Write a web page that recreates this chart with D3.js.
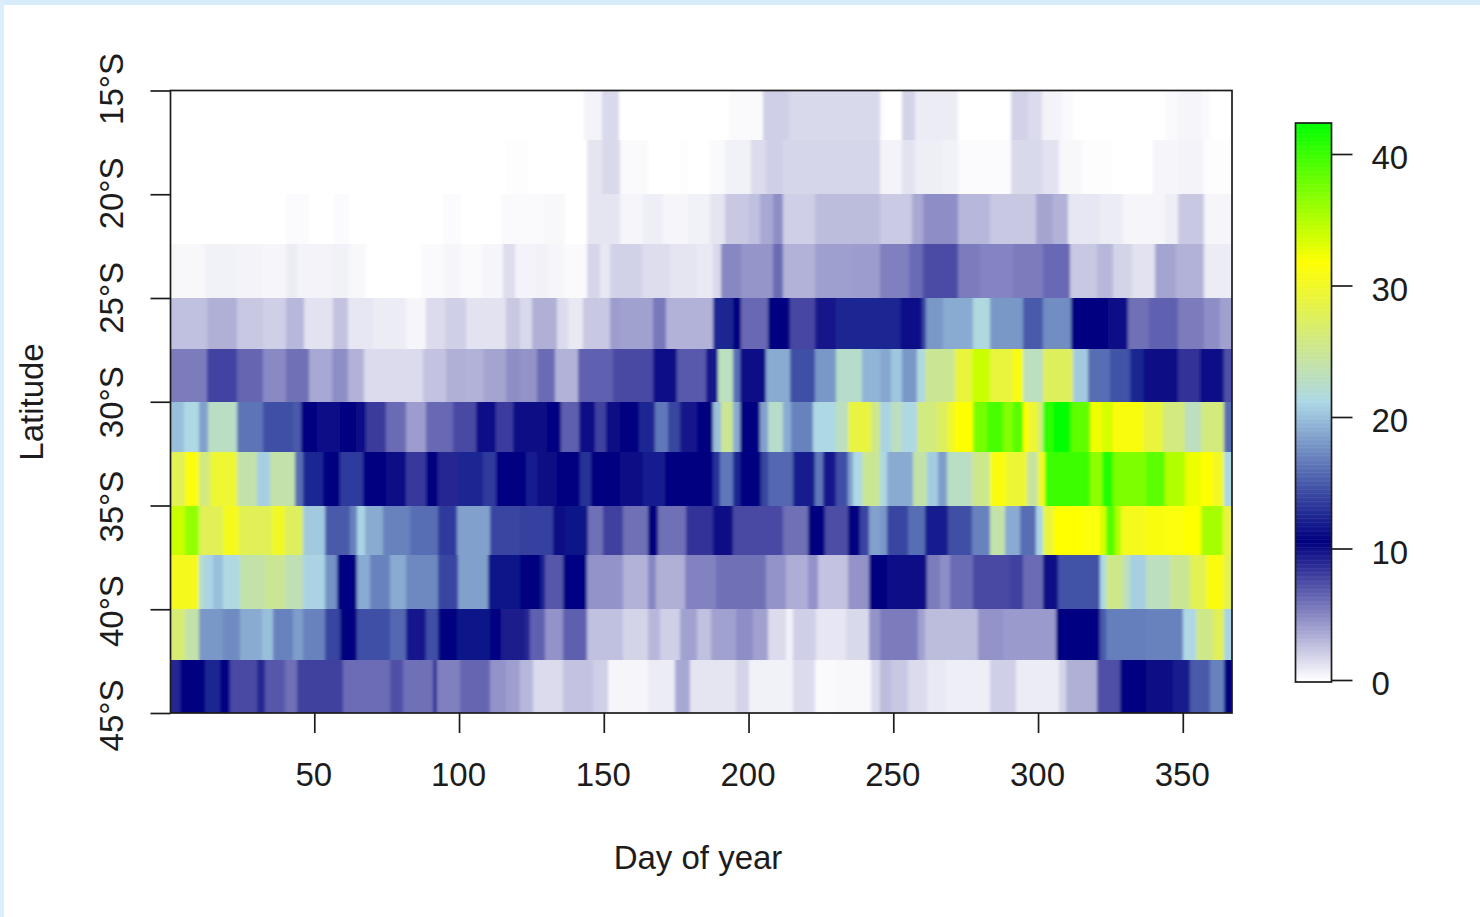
<!DOCTYPE html>
<html><head><meta charset="utf-8">
<script src="https://cdnjs.cloudflare.com/ajax/libs/d3/7.8.5/d3.min.js"></script>
<style>html,body{margin:0;padding:0;background:#fff;overflow:hidden}
svg{display:block}text{font-family:"Liberation Sans",Arial,sans-serif;font-size:33px;fill:#1c1c1c}</style>
</head><body><svg id="c" width="1480" height="917"></svg>
<script>
const dayTicks=[50,100,150,200,250,300,350];
const latTicks=[15,20,25,30,35,40,45];
const barTicks=[0,10,20,30,40];
const latEdges=[15,17.4,20,22.4,25,27.45,30,32.4,35,37.4,40,42.45,45];
const colorStops=[0,10.6,21.2,31.8,42.4];
const colorNames=["#ffffff","#000080","#add8e6","#ffff00","#00ff00"];
// each band: [end day of run, value]
const band15=[[143,0],[148.9,.5],[155,1.6],[193,0],[204.6,.2],[213.8,2],[245,1.6],[246.2,.2],[252.6,0],[257.2,1.8],[272,.8],[290.5,0],[296.3,1.9],[300.9,1.5],[307.8,.5],[311.8,.2],[343.4,0],[348,.2],[356,.4],[359,.2],[366,0]];
const band17=[[116,0],[124,.1],[143.7,0],[148.9,1.1],[155.2,1.6],[165,.2],[176,0],[179,.1],[186.3,0],[191.4,.2],[200.6,.6],[205.8,1.5],[211.6,2],[245,1.7],[252.6,.5],[257,1.2],[266.4,.7],[272,.6],[290.5,.15],[301.5,1.6],[307,1.2],[314.7,.3],[325.6,.1],[339.4,0],[348,.4],[356.6,.5],[366,.1]];
const band20=[[40,0],[48,.15],[56.5,0],[61.8,.15],[94,0],[100.5,.15],[114.3,0],[128.8,.2],[136.2,.3],[143.7,0],[155.2,1.1],[163.3,.4],[170.2,.7],[178.8,.4],[186.3,.6],[191.4,1.1],[200,2.3],[203.5,2.6],[208,3.6],[211.6,4.7],[222.5,2],[245,2.8],[256,2.2],[260,3.6],[272,4.7],[283,3],[299,2.3],[305,3.8],[310,3.2],[321,1],[329,.8],[343.4,.4],[348,.7],[357,2.3],[366,.4]];
const band22=[[12,.3],[23,.6],[31.5,.5],[40,.4],[43.6,.8],[55.7,.5],[61.8,.6],[67.7,.3],[86.7,0],[94.8,.2],[100,.4],[108,.2],[115,.4],[119,1.4],[120.7,.5],[126.5,.5],[130.5,.6],[135.6,.4],[143.7,.2],[148.3,1.7],[151.7,.95],[162.7,1.9],[172.5,1.4],[181.7,1.1],[187.4,.9],[190.3,1.6],[197.2,5],[208,4.4],[211.6,6.2],[222.5,3.2],[235.7,4],[245,4.1],[255,5.3],[260,6.2],[272,7.5],[279.6,5.5],[291,5.1],[301.5,5.5],[310.7,6.3],[320,2.3],[325.6,3],[332,1.8],[340,1.2],[347.4,3.8],[357,3.2],[366,.8]];
const band25=[[12.5,2.6],[23,3.3],[32,2.3],[40,2],[46,3],[56,1.2],[61.4,2.5],[70,1],[81.5,.8],[88.4,.4],[94.8,1.5],[102,2],[116,1.2],[120.7,2.3],[125,1.6],[133.4,3.3],[137.4,1.5],[142.5,.9],[151.7,2.3],[155.2,4.1],[166.7,3.9],[171.3,5.6],[187.4,3.2],[194.3,12.5],[197.2,10.6],[206.4,6.3],[214,10.6],[222.5,7.7],[230,9.8],[245,12.5],[252,12.5],[259.5,10],[261,14],[267,18],[277.3,19],[283,21.5],[294.6,18],[301.5,15],[311.2,17.5],[324,10.6],[330.8,10],[338,6],[348,6.6],[357,5.5],[362.4,4.7],[366,3.9]];
const band27=[[12.5,5.5],[23,7.8],[32,6.4],[40,4.9],[48,6],[55.7,3.6],[61.4,4.7],[67,3.2],[87.3,1.5],[95.3,2.5],[102,3.3],[108,3.2],[116,3.8],[120.7,4.7],[126.5,4.5],[132.8,6.2],[140.8,3.2],[153,6.6],[166.7,7.6],[174.8,10],[185,6.9],[189,9.8],[194.3,23],[196.6,16],[205.8,10.2],[214,19],[222.5,14.5],[230,18],[239,22.5],[245,19.5],[249,18.8],[252.6,20.3],[257.7,18],[260.6,21.5],[271,25],[277,29],[283,34],[291,29],[294.6,31],[301.5,23],[311.8,27.5],[317,20.5],[324.5,16],[331.4,14.6],[336,12.5],[348,10.2],[355.5,8.6],[364,9.9],[366,7.3]];
const band30=[[4.5,20],[9.7,21.3],[13,18.5],[23,22.8],[32,16.3],[42.4,14.5],[45,15],[50.5,10.6],[58.5,9.9],[64,10.6],[67.7,10],[74.6,8.2],[81.5,6.2],[88.4,4.1],[97.6,6.3],[105.7,7.6],[112.6,10],[118.3,8.2],[125.3,10.2],[129.9,10.3],[135,10.4],[141.2,6.7],[146.6,10.2],[150.6,8],[155.2,10.2],[162,10.6],[167.3,12.5],[171.9,16.5],[175.9,14],[181.7,9.8],[187.4,10.6],[190.3,20],[194.3,25],[196.6,19],[203.5,10.6],[206.4,18.5],[211.6,22.5],[214.4,19],[221.9,17],[230,21.3],[234,23],[242,28.8],[245,25.5],[249,21],[252.6,23],[257.7,21.3],[264.6,26],[268.7,27.5],[271,30],[277.3,31.8],[282,37.5],[287.6,39.5],[291,37],[294.6,38.8],[296.3,31.8],[299.7,29.5],[301.5,26],[304.9,40.5],[311.2,42.4],[317.5,38.5],[321.6,32.5],[325.6,33.5],[336,31],[343,29],[350.3,26],[356,23],[364,26],[366,16]];
const band32=[[5,28],[10,31.3],[13.5,26],[23,29.5],[29.8,24],[34.4,20.8],[43,24],[45.9,16],[52.8,12.5],[58.5,10.7],[66.6,13.5],[74.6,10.5],[81.5,10.2],[88.4,8.3],[92.5,10.6],[99.4,9],[108,12.5],[112.6,13.5],[122.9,10.6],[126.5,12],[133.4,10.3],[141.4,10.6],[145.4,13],[155.2,10.6],[163.3,10.2],[170.7,12],[187.4,10.6],[189.7,13],[194.3,16.5],[196.6,12.5],[204,10.6],[206.4,14],[215,15.7],[222.5,12],[225.4,16.5],[230,11.8],[234,14.5],[235.7,18.5],[239,21.2],[245,25],[247.4,21.3],[256.6,19],[261.2,24],[265.2,20.6],[268.1,18.3],[276.7,22.8],[283,25.3],[288.6,31],[295.7,29.3],[299.7,24.5],[302,30],[317.5,40],[321.6,36.5],[325.6,41],[337.1,37.2],[343.4,38.6],[350.3,35],[356,32.6],[360,31.8],[364,30],[366,21.3]];
const band35=[[5,34],[9.7,36.3],[18.3,27.8],[23.5,30.5],[35,27.8],[39.6,30],[45.9,27.5],[53.4,20.5],[62,15],[64.3,17],[67.2,21],[73.5,19],[82.7,17],[92.5,16],[98.8,13.5],[110.3,18.5],[120.7,14],[127.6,13.8],[132.2,13.8],[136.2,11],[144.3,11.5],[149.5,6],[156.4,8],[164.8,6],[168.4,10.6],[178.2,6],[187.4,8.6],[194.3,10.2],[211.6,7.6],[220.2,6],[226,10.6],[234,7.4],[238,10.6],[241.4,14],[245,18.5],[247.4,18],[254.9,14],[260.6,16],[268.7,12],[276.7,14.5],[283,17],[288.2,24],[293.4,19],[299.1,16],[301.5,21],[304.9,29],[315.2,31.8],[321,31.5],[323.3,33.5],[326.2,38.8],[328.5,35],[337.1,30.5],[342.9,31],[349.8,31.5],[356,31.8],[363.6,35.5],[366,29]];
const band37=[[10,30.5],[12,22],[14.8,21],[18.3,20],[24,21.4],[32.7,24],[39.6,25],[45.9,23.5],[53.4,21],[57.4,17.8],[64.3,10.8],[68.9,19],[75.8,17],[81.5,19],[92.5,17.3],[99.4,14],[109.7,18.5],[120.7,11.5],[127.6,10.6],[129.3,12],[135.7,7],[143.7,10.4],[156.4,4.5],[165,3.2],[167.8,5],[177.6,3.3],[188.6,5.2],[205.8,6],[212.7,4.5],[220.2,3.4],[223.6,4.5],[234,2.5],[241.4,4.5],[247.4,10.6],[261.2,9.9],[265.8,5.5],[269.3,4.7],[277.3,6.2],[290,7.6],[294.6,8],[301.5,6.2],[306.6,10.2],[321,14.6],[323.3,21.3],[329,25.5],[331.4,23],[337.1,20.8],[345.1,23],[352,25],[357.8,28],[364,31],[366,28]];
const band40=[[5,26.5],[10,24],[18.3,18],[24,17.4],[31.5,19],[35.5,20],[42.4,17],[45.9,18.3],[53.4,17],[58.5,14],[64.3,10.6],[75.8,14.5],[81.5,15.7],[88.4,11.8],[92.5,14.5],[98.8,10.6],[110.3,11.5],[114.3,10.6],[122.4,9.5],[124.2,9],[129.3,6.6],[135.7,4.5],[143.7,6.7],[156.4,2.6],[165,1.8],[169,3],[175.9,2],[181.7,3.9],[186.8,2.6],[195.5,3.9],[201.2,4.7],[206.4,3.9],[212.7,1.5],[215,.6],[223,2],[233.4,1],[241.4,1.6],[245,4.5],[258.3,5.5],[260.6,3.9],[279,2.8],[287.7,4.5],[306,4.2],[321,10.4],[323.3,15],[337.1,16.8],[349.8,17],[354.3,21.3],[360,25.5],[364,27.8],[366,21]];
const band42=[[3.3,9],[12,10.6],[17,12.5],[20.6,10.4],[29.8,7.6],[32.7,9],[39.6,7],[43.6,6],[59.7,8],[75.8,6.1],[80.4,7.3],[90.7,6],[92,8.6],[100,5.3],[110.3,6.4],[116,4.5],[120.7,4],[125.3,3],[135.7,1.5],[146,2.5],[151.2,2],[165,.4],[174.2,.8],[179.3,3.6],[195.5,1.1],[200,1.8],[215,.6],[222.5,1.5],[230,.2],[242,.3],[245,1.5],[249,2.8],[254.9,2.3],[261.2,1.5],[268,.9],[283,.7],[292.2,2],[307,.8],[309.5,1.8],[319.9,3.3],[327.9,7.3],[337.1,10.6],[346.3,10.2],[352,12],[358.9,15],[364,17],[366,10.6]];
const bands=[band15,band17,band20,band22,band25,band27,band30,band32,band35,band37,band40,band42];

const dayShift=0.33;
const L=170.5,R=1232,T=90.5,B=713;
const x=d3.scaleLinear().domain([dayShift,367]).range([L,R]);
const y=d3.scaleLinear().domain([15,45]).range([T,B]);
const color=d3.scaleLinear().domain(colorStops).range(colorNames).interpolate(d3.interpolateRgb).clamp(true);
const barY=d3.scaleLinear().domain([0,40]).range([680,154]);

const svg=d3.select("#c");
svg.append("rect").attr("width",1480).attr("height",5).attr("fill","#d6ecfb");
svg.append("rect").attr("width",4).attr("height",917).attr("fill","#dceefb");

const defs=svg.append("defs");
const rowBlur=defs.append("filter").attr("id","rowsoft").attr("filterUnits","userSpaceOnUse")
  .attr("x",140).attr("y",60).attr("width",1130).attr("height",690);
rowBlur.append("feGaussianBlur").attr("stdDeviation","1.5 0");
defs.append("filter").attr("id","soft").attr("filterUnits","userSpaceOnUse")
  .attr("x",140).attr("y",60).attr("width",1130).attr("height",690)
  .append("feGaussianBlur").attr("stdDeviation","0 0.6");
defs.append("clipPath").attr("id","plot").append("rect").attr("x",L).attr("y",T).attr("width",R-L).attr("height",B-T);

const plot=svg.append("g").attr("clip-path","url(#plot)").append("g").attr("filter","url(#soft)");
plot.selectAll("g").data(bands).join("g").attr("filter","url(#rowsoft)").each(function(rows,i){
  let start=dayShift-3;
  const cells=rows.map((r,j)=>{
    const c={x0:start,x1:j===rows.length-1?370:r[0]+dayShift,v:r[1]};
    start=r[0]+dayShift;return c;});
  const top=i?y(latEdges[i]):T-4, bottom=i===11?B+4:y(latEdges[i+1]);
  d3.select(this).selectAll("rect").data(cells).join("rect")
    .attr("x",d=>x(d.x0)).attr("width",d=>x(d.x1)-x(d.x0))
    .attr("y",top).attr("height",bottom-top)
    .attr("fill",d=>color(d.v)).attr("shape-rendering","crispEdges");
});

const ink="#1c1c1c",sw=1.7;
svg.append("rect").attr("x",L).attr("y",T).attr("width",R-L).attr("height",B-T)
  .attr("fill","none").attr("stroke",ink).attr("stroke-width",sw);

const ax=svg.append("g").attr("transform",`translate(0,${B})`)
  .call(d3.axisBottom(x).tickValues(dayTicks).tickSize(20).tickPadding(30).tickFormat(d3.format("d")));
ax.select(".domain").remove();
ax.selectAll("line").attr("stroke",ink).attr("stroke-width",sw);
ax.selectAll("text").attr("fill",ink).attr("dx",-1).style("font-size","33px").style("font-family",'"Liberation Sans"');

const ay=svg.append("g").attr("transform",`translate(${L},0)`)
  .call(d3.axisLeft(y).tickValues(latTicks).tickSize(20).tickFormat(d=>d+"°S"));
ay.select(".domain").remove();
ay.selectAll("line").attr("stroke",ink).attr("stroke-width",sw);
ay.selectAll("text").attr("fill",ink).style("font-size","33px").style("font-family",'"Liberation Sans"')
  .attr("text-anchor","middle").attr("dy",0).attr("x",0).attr("y",0)
  .attr("transform",d=>`translate(${123-L},${(d-30)/15*2}) rotate(-90)`);

svg.append("text").attr("x",698).attr("y",869).attr("text-anchor","middle").text("Day of year");
svg.append("text").attr("transform","translate(43,402) rotate(-90)").attr("text-anchor","middle").text("Latitude");

// colour bar
const barVals=d3.range(-2,430).map(i=>i*0.1);
const bx=1295.5,bw=36,bTop=123,bBot=682;
const barG=svg.append("g");
barG.selectAll("rect").data(barVals).join("rect")
  .attr("x",bx).attr("width",bw)
  .attr("y",d=>Math.max(bTop,barY(d+0.1)))
  .attr("height",d=>Math.max(0,Math.min(bBot,barY(d)+0.5)-Math.max(bTop,barY(d+0.1))))
  .attr("fill",d=>color(d+0.05));
barG.append("rect").attr("x",bx).attr("width",bw).attr("y",bTop).attr("height",bBot-bTop)
  .attr("fill","none").attr("stroke",ink).attr("stroke-width",sw);
const ab=svg.append("g").attr("transform",`translate(${bx+bw},0)`)
  .call(d3.axisRight(barY).tickValues(barTicks).tickSize(21).tickPadding(19).tickFormat(d3.format("d")));
ab.select(".domain").remove();
ab.selectAll("line").attr("stroke",ink).attr("stroke-width",sw);
ab.selectAll("text").attr("fill",ink).attr("dy","0.44em").style("font-size","33px").style("font-family",'"Liberation Sans"');
</script></body></html>
